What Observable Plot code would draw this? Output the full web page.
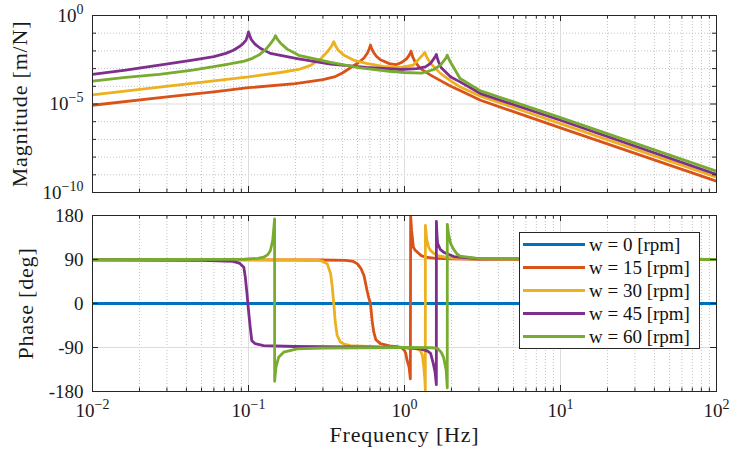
<!DOCTYPE html>
<html><head><meta charset="utf-8">
<script src="https://cdn.jsdelivr.net/npm/d3@7"></script>
<script src="https://cdn.jsdelivr.net/npm/@observablehq/plot@0.6"></script>
<style>
body{margin:0;background:#fff;}
#fig{position:relative;width:736px;height:457px;font-family:"Liberation Serif",serif;overflow:hidden;}
#top,#bot{position:absolute;left:0;}
#top{top:0px}
#bot{top:200px}
#legend{position:absolute;left:519px;top:232px;width:181px;height:117px;border:1px solid #262626;background:#fff;box-sizing:border-box;}
.row{display:flex;align-items:center;height:23.1px;}
.sw{width:62px;height:0;border-top:3px solid;margin-left:3px;margin-right:4px;}
.lab{font-size:19px;color:#111;white-space:nowrap;line-height:1;}
</style></head><body>
<div id="fig"><div id="top"></div><div id="bot"></div><div id="legend"></div></div>
<script>
// ---- series ----
const seriesNames = ["w = 0 [rpm]", "w = 15 [rpm]", "w = 30 [rpm]", "w = 45 [rpm]", "w = 60 [rpm]"];
const seriesColors = ["#0072BD", "#D95319", "#EDB120", "#7E2F8E", "#77AC30"];

// ---- magnitude (frequency in Hz, log10 of magnitude in m/N) ----
const magF15 = [0.01, 0.03, 0.06, 0.1, 0.2, 0.3, 0.36, 0.4, 0.45, 0.5, 0.55, 0.58, 0.595, 0.605, 0.615, 0.63, 0.66, 0.7, 0.8, 0.88, 0.96, 1.03, 1.07, 1.09, 1.1, 1.11, 1.13, 1.17, 1.26, 1.47, 1.7, 1.98, 2.27, 3.07, 10, 100];
const magL15 = [-5.07, -4.6, -4.32, -4.08, -3.85, -3.62, -3.45, -3.25, -2.95, -2.7, -2.4, -2.1, -1.88, -1.67, -1.85, -2.05, -2.3, -2.5, -2.72, -2.78, -2.65, -2.45, -2.25, -2.12, -2.01, -2.12, -2.35, -2.62, -2.99, -3.37, -3.68, -4.0, -4.24, -4.79, -6.35, -9.36];

const magF30 = [0.01, 0.0326, 0.1, 0.16, 0.21, 0.25, 0.29, 0.32, 0.34, 0.352, 0.362, 0.375, 0.41, 0.47, 0.57, 0.73, 0.94, 1.14, 1.24, 1.3, 1.33, 1.35, 1.37, 1.4, 1.47, 1.7, 1.98, 2.27, 3.07, 10, 100];
const magL30 = [-4.49, -3.96, -3.47, -3.22, -3.05, -2.82, -2.45, -2.05, -1.75, -1.48, -1.72, -1.95, -2.25, -2.52, -2.71, -2.88, -2.93, -2.8, -2.45, -2.25, -2.15, -2.09, -2.22, -2.4, -2.71, -3.27, -3.7, -4.03, -4.56, -6.11, -9.13];

const magF45 = [0.01, 0.0163, 0.0268, 0.0438, 0.06, 0.0715, 0.08, 0.087, 0.092, 0.0964, 0.098, 0.1, 0.102, 0.104, 0.11, 0.119, 0.138, 0.205, 0.336, 0.57, 0.94, 1.2, 1.36, 1.47, 1.54, 1.58, 1.6, 1.62, 1.65, 1.72, 1.98, 2.27, 3.07, 10, 100];
const magL45 = [-3.33, -3.09, -2.8, -2.52, -2.32, -2.14, -1.96, -1.77, -1.6, -1.39, -1.22, -0.93, -1.15, -1.35, -1.62, -1.85, -2.14, -2.43, -2.75, -2.93, -3.05, -3.0, -2.9, -2.7, -2.45, -2.3, -2.2, -2.38, -2.6, -2.95, -3.47, -3.75, -4.41, -5.92, -8.98];

const magF60 = [0.01, 0.0163, 0.0268, 0.0438, 0.0715, 0.094, 0.106, 0.118, 0.128, 0.138, 0.145, 0.149, 0.153, 0.16, 0.177, 0.21, 0.336, 0.52, 0.8, 1.0, 1.3, 1.54, 1.7, 1.79, 1.85, 1.88, 1.91, 1.96, 2.07, 2.27, 3.07, 10, 100];
const magL60 = [-3.71, -3.5, -3.33, -3.09, -2.77, -2.58, -2.42, -2.2, -1.95, -1.6, -1.35, -1.14, -1.33, -1.55, -1.9, -2.25, -2.65, -2.96, -3.15, -3.22, -3.25, -3.05, -2.8, -2.55, -2.38, -2.24, -2.4, -2.6, -2.95, -3.56, -4.26, -5.77, -8.79];

// ---- phase (frequency in Hz, phase in deg) ----
const phF0 = [0.01, 100];
const ph0 = [0, 0];

const phF15 = [0.01, 0.3, 0.42, 0.47, 0.5, 0.525, 0.55, 0.575, 0.59, 0.605, 0.62, 0.635, 0.655, 0.7, 0.8, 0.9, 0.96, 1.0, 1.02, 1.04, 1.07, 1.09, 1.095, 1.11, 1.14, 1.17, 1.21, 1.28, 1.35, 1.6, 2, 3, 100];
const ph15 = [89.5, 89, 88.3, 86, 81, 72, 57, 27, 12, 0, -35, -58, -74, -82, -86.5, -88, -91, -96, -103, -117, -130, -154, 180, 150, 115, 109, 105, 98, 95, 92.5, 91.5, 90.5, 90];

const phF30 = [0.01, 0.2, 0.28, 0.3, 0.32, 0.336, 0.344, 0.352, 0.36, 0.37, 0.388, 0.41, 0.45, 0.7, 1.0, 1.2, 1.26, 1.3, 1.33, 1.35, 1.36, 1.361, 1.39, 1.43, 1.47, 1.55, 1.63, 2, 4, 100];
const ph30 = [89.5, 89, 88, 86, 81, 61, 35, 0, -38, -65, -79, -83, -86, -89, -90, -93, -96, -105, -130, -155, -177, 160, 130, 115, 108, 102, 98, 93, 90.5, 90];

const phF45 = [0.01, 0.05, 0.08, 0.088, 0.0933, 0.0954, 0.0978, 0.1, 0.1025, 0.105, 0.11, 0.125, 0.2, 1.0, 1.26, 1.4, 1.47, 1.53, 1.57, 1.6, 1.601, 1.615, 1.63, 1.7, 1.78, 2.07, 3, 100];
const ph45 = [89.5, 88.5, 86, 82, 74, 54, 20, -14, -48, -76, -82, -86, -88, -90, -92.7, -97, -102, -123, -140, -166, 168, 140, 123, 110, 105, 96, 91.5, 90];

const phF60 = [0.01, 0.094, 0.115, 0.125, 0.133, 0.138, 0.143, 0.147, 0.1471, 0.15, 0.156, 0.168, 0.205, 0.3, 1.0, 1.5, 1.63, 1.72, 1.78, 1.85, 1.88, 1.881, 1.92, 1.98, 2.07, 2.17, 2.27, 3, 100];
const ph60 = [89.5, 90.5, 92.5, 94.7, 100, 108, 129, 173, -159, -130, -110, -99.6, -92.7, -91, -90, -90.5, -92, -100, -110, -137, -172.5, 162, 140, 122, 110, 101.5, 96.7, 92, 90];

// ---- ticks ----
const xMajor = [0.01, 0.1, 1, 10, 100];
const xMinor = [2, 3, 4, 5, 6, 7, 8, 9].flatMap(k => [0.01, 0.1, 1, 10].map(d => +(d * k).toPrecision(3)));
const magMajor = [1e-10, 1e-5, 1];
const magMinor = [1e-9, 1e-8, 1e-7, 1e-6, 1e-4, 1e-3, 1e-2, 1e-1];
const phaseTicks = [-180, -90, 0, 90, 180];
const axisTitles = ["Magnitude [m/N]", "Phase [deg]", "Frequency [Hz]"];

// ---- build tables ----
const magRows = [
  [magF15, magL15, seriesNames[1]],
  [magF30, magL30, seriesNames[2]],
  [magF45, magL45, seriesNames[3]],
  [magF60, magL60, seriesNames[4]]
].flatMap(([F, L, s]) => F.map((f, i) => ({f, m: Math.pow(10, L[i]), s})));

const phRows = [
  [phF0, ph0, seriesNames[0]],
  [phF15, ph15, seriesNames[1]],
  [phF30, ph30, seriesNames[2]],
  [phF45, ph45, seriesNames[3]],
  [phF60, ph60, seriesNames[4]]
].flatMap(([F, P, s]) => F.map((f, i) => ({f, p: P[i], s})));

const W = 736, ML = 92, MR = 20;
const PW = W - ML - MR;
const FONT = "Liberation Serif";
const TXT = "#1a1a1a";
const majorGrid = "#dcdcdc";
const minorGrid = "#c2c2c2";
const frameCol = "#262626";
const LW = 2.8;
const expFmt = d => "10^" + String(Math.round(Math.log10(d))).replace("-", "\u2212");

function tickMarksX(plotH) {
  return [
    Plot.tickX(xMajor, {x: d => d, insetTop: plotH - 6, stroke: frameCol}),
    Plot.tickX(xMajor, {x: d => d, insetBottom: plotH - 6, stroke: frameCol}),
    Plot.tickX(xMinor, {x: d => d, insetTop: plotH - 3.5, stroke: frameCol}),
    Plot.tickX(xMinor, {x: d => d, insetBottom: plotH - 3.5, stroke: frameCol})
  ];
}
function tickMarksY(vals, len) {
  return [
    Plot.tickY(vals, {y: d => d, insetRight: PW - len, stroke: frameCol}),
    Plot.tickY(vals, {y: d => d, insetLeft: PW - len, stroke: frameCol})
  ];
}

const colorOpt = {domain: seriesNames, range: seriesColors};

// ---- top: magnitude ----
const topH = 200, topMT = 15, topMB = 8;
const topPH = topH - topMT - topMB;
const topPlot = Plot.plot({
  width: W, height: topH,
  marginLeft: ML, marginRight: MR, marginTop: topMT, marginBottom: topMB,
  style: {fontFamily: FONT, background: "transparent", overflow: "visible"},
  x: {type: "log", domain: [0.01, 100], axis: null},
  y: {type: "log", domain: [1e-10, 1], axis: null},
  color: colorOpt,
  marks: [
    Plot.ruleX(xMinor, {x: d => d, stroke: minorGrid, strokeDasharray: "1,2"}),
    Plot.ruleY(magMinor, {y: d => d, stroke: minorGrid, strokeDasharray: "1,2"}),
    Plot.ruleX(xMajor.slice(1, -1), {x: d => d, stroke: majorGrid}),
    Plot.ruleY([1e-5], {y: d => d, stroke: majorGrid}),
    Plot.line(magRows, {x: "f", y: "m", z: "s", stroke: "s", strokeWidth: LW, strokeLinejoin: "round", clip: true}),
    ...tickMarksX(topPH),
    ...tickMarksY(magMajor, 6),
    ...tickMarksY(magMinor, 4),
    Plot.frame({stroke: frameCol, strokeWidth: 1}),
    Plot.text(magMajor, {y: d => d, text: expFmt, frameAnchor: "left", dx: -9, textAnchor: "end", fontSize: 19, fill: TXT}),
    Plot.text([axisTitles[0]], {frameAnchor: "left", textAnchor: "middle", rotate: -90, dx: -73, fontSize: 22, fill: TXT})
  ]
});

// ---- bottom: phase ----
const botH = 257, botMT = 15, botMB = 66;
const botPH = botH - botMT - botMB;
const botPlot = Plot.plot({
  width: W, height: botH,
  marginLeft: ML, marginRight: MR, marginTop: botMT, marginBottom: botMB,
  style: {fontFamily: FONT, background: "transparent", overflow: "visible"},
  x: {type: "log", domain: [0.01, 100], axis: null},
  y: {type: "linear", domain: [-180, 180], axis: null},
  color: colorOpt,
  marks: [
    Plot.ruleX(xMinor, {x: d => d, stroke: minorGrid, strokeDasharray: "1,2"}),
    Plot.ruleX(xMajor.slice(1, -1), {x: d => d, stroke: majorGrid}),
    Plot.ruleY([-90, 0, 90], {y: d => d, stroke: majorGrid}),
    Plot.line(phRows, {x: "f", y: "p", z: "s", stroke: "s", strokeWidth: LW, strokeLinejoin: "round", clip: true}),
    ...tickMarksX(botPH),
    ...tickMarksY(phaseTicks, 6),
    Plot.frame({stroke: frameCol, strokeWidth: 1}),
    Plot.text(phaseTicks, {y: d => d, text: d => String(d), frameAnchor: "left", dx: -9, textAnchor: "end", fontSize: 19, fill: TXT}),
    Plot.text(xMajor, {x: d => d, text: expFmt, frameAnchor: "bottom", lineAnchor: "top", dy: 12, fontSize: 19, fill: TXT}),
    Plot.text([axisTitles[1]], {frameAnchor: "left", textAnchor: "middle", rotate: -90, dx: -67, fontSize: 22, fill: TXT}),
    Plot.text([axisTitles[2]], {frameAnchor: "bottom", dy: 50, fontSize: 22, fill: TXT})
  ]
});

function fixTexts(svg) {
  svg.querySelectorAll("text").forEach(t => {
    const s = t.textContent;
    if (axisTitles.includes(s)) {
      t.style.letterSpacing = "0.8px";
      return;
    }
    const i = s.indexOf("^");
    if (i < 0) return;
    t.textContent = s.slice(0, i);
    const ts = document.createElementNS("http://www.w3.org/2000/svg", "tspan");
    ts.setAttribute("dy", "-8");
    ts.setAttribute("font-size", "14");
    ts.textContent = s.slice(i + 1);
    t.appendChild(ts);
  });
}
fixTexts(topPlot);
fixTexts(botPlot);

document.getElementById("top").appendChild(topPlot);
document.getElementById("bot").appendChild(botPlot);

// ---- legend ----
const legend = document.getElementById("legend");
seriesNames.forEach((name, i) => {
  const row = document.createElement("div");
  row.className = "row";
  const sw = document.createElement("div");
  sw.className = "sw";
  sw.style.borderTopColor = seriesColors[i];
  const lab = document.createElement("span");
  lab.className = "lab";
  lab.textContent = name;
  row.appendChild(sw);
  row.appendChild(lab);
  legend.appendChild(row);
});
</script>
</body></html>
